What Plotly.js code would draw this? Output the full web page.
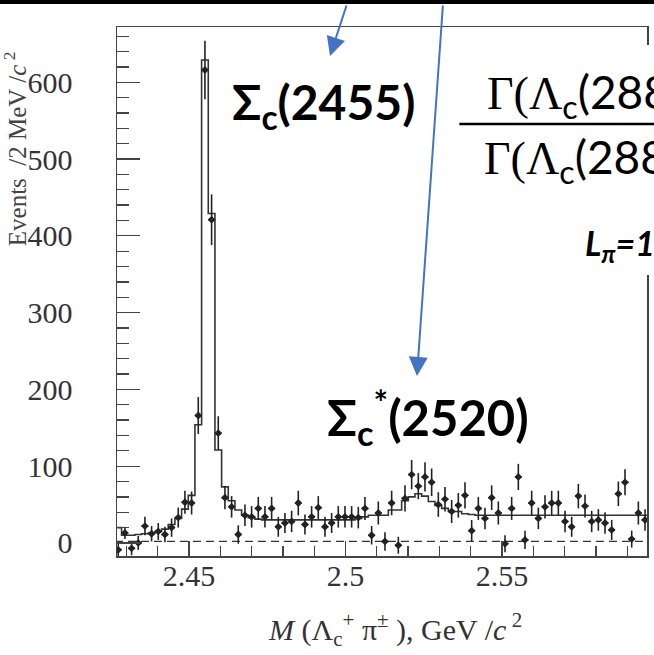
<!DOCTYPE html>
<html><head><meta charset="utf-8">
<script src="https://cdn.plot.ly/plotly-3.0.1.min.js"></script>
<style>html,body{margin:0;padding:0;background:#fff;overflow:hidden}#chart{width:654px;height:655px}</style>
</head><body><div id="chart"></div>
<script>
// ---- data (on the picture's own axis) ----
const binWidthGeV = 0.00213;
const firstBinCenter = 2.4274;
const counts = [
  -9, 13, -7, 0, 22, 12, 15, 11, 20, 33,
  53, 52, 166, 616, 421, 143, 59, 47, 11, 36,
  34, 45, 34, 45, 21, 26, 28, 52, 24, 34,
  46, 21, 26, 34, 34, 34, 33, 45, 10, 39,
  2, 52, -3, 58, 89, 74, 86, 79, 50, 57,
  41, 49, 62, 16, 45, 32, 59, 39, -1, 45,
  86, 4, 52, 32, 47, 52, 52, 28, 21, 61,
  48, 28, 30, 26, 17, 64, 79, 5, 39, 30
];
const countErrors = [
  8, 8, 9, 9, 12, 10, 11, 10, 12, 13,
  15, 15, 24, 38, 33, 22, 15, 14, 12, 14,
  14, 15, 14, 15, 13, 13, 14, 16, 13, 14,
  15, 13, 13, 14, 14, 14, 14, 15, 12, 15,
  12, 16, 11, 17, 19, 17, 19, 18, 16, 16,
  15, 16, 17, 14, 15, 14, 16, 15, 11, 15,
  17, 12, 16, 14, 15, 16, 16, 14, 13, 16,
  15, 14, 14, 14, 13, 16, 17, 11, 15, 14
];
const fitCurve = [
  20, 10, 10, 11, 12, 13, 15, 18, 24, 32,
  44, 62, 154, 629, 429, 121, 73, 55, 43, 36,
  33, 31, 30, 30, 30, 30, 30, 30, 30, 30,
  30, 30, 30, 30, 30, 30, 32, 34, 36, 36,
  36, 43, 43, 55, 60, 64, 61, 54, 49, 45,
  41, 41, 38, 37, 36, 36, 36, 36, 36, 36,
  36, 36, 36, 36, 36, 36, 36, 36, 36, 36,
  36, 36, 36, 36, 36, 36, 36, 36, 36, 36
];
const backgroundLevel = 2;
const xTickVals = [2.45, 2.5, 2.55];
const xTickText = ['2.45', '2.5', '2.55'];
const xMinorVals = [2.43, 2.44, 2.46, 2.47, 2.48, 2.49, 2.51, 2.52, 2.53, 2.54, 2.56, 2.57, 2.58, 2.59];
const yTickVals = [0, 100, 200, 300, 400, 500, 600];
const yTickText = ['0', '100', '200', '300', '400', '500', '600'];
const yMinorVals = [20, 40, 60, 80, 120, 140, 160, 180, 220, 240, 260, 280, 320, 340, 360, 380,
                    420, 440, 460, 480, 520, 540, 560, 580, 620, 640, 660];

// ---- derived bin grid ----
const centers = counts.map((_, i) => +(firstBinCenter + i * binWidthGeV).toFixed(5));
const stepX = [], stepY = [];
centers.forEach((c, i) => {
  stepX.push(c - binWidthGeV / 2, c + binWidthGeV / 2);
  stepY.push(fitCurve[i], fitCurve[i]);
});
const edgeLo = centers[0] - binWidthGeV / 2;
const edgeHi = centers[centers.length - 1] + binWidthGeV / 2;

const ink = '#222';
const axisInk = '#444';
const serif = 'Liberation Serif, Times New Roman, serif';
const sans = 'Lato, Open Sans, sans-serif';
const blue = '#4472C4';

const traces = [
  { type: 'scatter', mode: 'lines', x: [edgeLo, edgeHi], y: [backgroundLevel, backgroundLevel],
    line: { color: '#333', width: 1.4, dash: '8px,5px' }, hoverinfo: 'skip', showlegend: false },
  { type: 'scatter', mode: 'lines', x: stepX, y: stepY,
    line: { color: '#333', width: 1.6 }, hoverinfo: 'skip', showlegend: false },
  { type: 'scatter', mode: 'markers', x: centers, y: counts,
    marker: { symbol: 'diamond', size: 6, color: ink },
    error_y: { type: 'data', array: countErrors, visible: true, color: ink, thickness: 1.6, width: 0 },
    error_x: { type: 'constant', value: binWidthGeV / 2, visible: true, color: ink, thickness: 1.6, width: 0 },
    showlegend: false }
];

const layout = {
  width: 654, height: 655,
  margin: { l: 117, r: 7, t: 27, b: 99, pad: 0 },
  paper_bgcolor: '#fff', plot_bgcolor: '#fff',
  showlegend: false,
  xaxis: {
    range: [2.427, 2.5963], showgrid: false, zeroline: false,
    showline: true, mirror: true, linecolor: axisInk, linewidth: 1.5,
    tickmode: 'array', tickvals: xTickVals, ticktext: xTickText,
    ticks: 'inside', ticklen: 15, tickwidth: 1.3, tickcolor: axisInk,
    ticklabelstandoff: -8,
    minor: { tickmode: 'array', tickvals: xMinorVals, ticks: 'inside', ticklen: 10, tickwidth: 1.3, tickcolor: axisInk, showgrid: false },
    tickfont: { family: serif, size: 30, color: '#333' }
  },
  yaxis: {
    range: [-17, 672], showgrid: false, zeroline: false,
    showline: true, mirror: true, linecolor: axisInk, linewidth: 1.5,
    tickmode: 'array', tickvals: yTickVals, ticktext: yTickText,
    ticks: 'inside', ticklen: 23, tickwidth: 1.3, tickcolor: axisInk,
    ticklabelstandoff: 37,
    minor: { tickmode: 'array', tickvals: yMinorVals, ticks: 'inside', ticklen: 12, tickwidth: 1.3, tickcolor: axisInk, showgrid: false },
    tickfont: { family: serif, size: 30, color: '#333' }
  },
  shapes: [
    { type: 'rect', xref: 'paper', yref: 'paper', x0: -0.25, x1: 1.05, y0: 1.0435, y1: 1.2,
      fillcolor: '#000', line: { width: 0 }, layer: 'above' },
    { type: 'rect', xref: 'paper', yref: 'paper', x0: 0.64, x1: 1.05, y0: 0.5312, y1: 0.966,
      fillcolor: '#fff', line: { width: 0 }, layer: 'above' },
    { type: 'line', xref: 'paper', yref: 'paper', x0: 0.646, x1: 1.05, y0: 0.8166, y1: 0.8166,
      line: { color: '#000', width: 2.5 }, layer: 'above' }
  ],
  annotations: [
    { xref: 'paper', yref: 'paper', x: -0.192, y: 0.7694, xanchor: 'center', yanchor: 'middle',
      textangle: -90, showarrow: false,
      text: 'Events  /2 MeV /<i>c</i><sup> 2</sup>', font: { family: serif, size: 25, color: '#444' } },
    { xref: 'paper', yref: 'paper', x: 0.5245, y: -0.138, xanchor: 'center', yanchor: 'middle', showarrow: false,
      text: '<i>M</i> (Λ<sub>c</sub><sup>+</sup> π<sup>±</sup> ), GeV /<i>c</i><sup> 2</sup>',
      font: { family: serif, size: 30, color: '#333' } },
    { xref: 'paper', yref: 'paper', x: 0.4019, y: 0.9452, text: '', showarrow: true,
      ax: 17, ay: -52, arrowhead: 2, arrowsize: 1.9, arrowwidth: 2, arrowcolor: blue },
    { xref: 'paper', yref: 'paper', x: 0.566, y: 0.3403, text: '', showarrow: true,
      ax: 26, ay: -372, arrowhead: 2, arrowsize: 1.9, arrowwidth: 2, arrowcolor: blue },
    { xref: 'paper', yref: 'paper', x: 0.2132, y: 0.8526, xanchor: 'left', yanchor: 'middle', showarrow: false,
      text: '<b>Σ<sub>c</sub>(2455)</b>', font: { family: sans, size: 48, color: '#000' } },
    { xref: 'paper', yref: 'paper', x: 0.3925, y: 0.2628, xanchor: 'left', yanchor: 'middle', showarrow: false,
      text: '<b>Σ<sub>c</sub><sup>*</sup>(2520)</b>', font: { family: sans, size: 49, color: '#000' } },
    { xref: 'paper', yref: 'paper', x: 0.6943, y: 0.8715, xanchor: 'left', yanchor: 'middle', showarrow: false,
      text: '<span style="font-family:Liberation Serif">Γ(Λ</span><sub>c</sub>(288',
      font: { family: sans, size: 46, color: '#000' } },
    { xref: 'paper', yref: 'paper', x: 0.6887, y: 0.7486, xanchor: 'left', yanchor: 'middle', showarrow: false,
      text: '<span style="font-family:Liberation Serif">Γ(Λ</span><sub>c</sub>(288',
      font: { family: sans, size: 46, color: '#000' } },
    { xref: 'paper', yref: 'paper', x: 0.879, y: 0.5879, xanchor: 'left', yanchor: 'middle', showarrow: false,
      text: '<b><i>L<sub>π</sub>=1</i></b>', font: { family: sans, size: 34, color: '#000' } }
  ]
};

Plotly.newPlot('chart', traces, layout, { staticPlot: true, displayModeBar: false });
</script>
</body></html>
